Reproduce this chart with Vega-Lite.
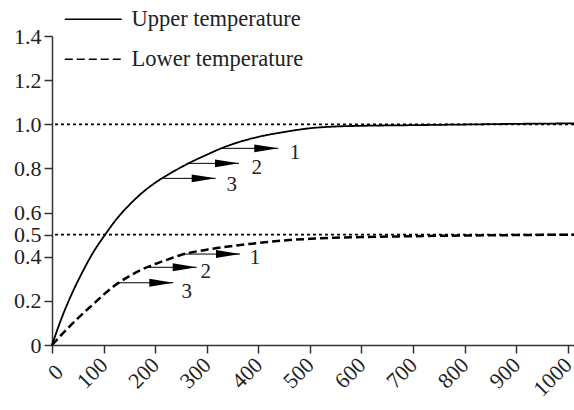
{
  "$schema": "https://vega.github.io/schema/vega-lite/v6.json",
  "width": 522,
  "height": 309,
  "autosize": {"type": "none"},
  "padding": {"left": 52, "top": 36, "right": 0, "bottom": 65},
  "background": "white",
  "config": {
    "view": {"stroke": null},
    "font": "Liberation Serif",
    "axis": {
      "grid": false,
      "domainColor": "#333",
      "domainWidth": 1.5,
      "tickColor": "#333",
      "tickWidth": 1.5,
      "tickSize": 8,
      "labelFont": "Liberation Serif",
      "labelFontSize": 22,
      "labelColor": "#222",
      "labelOverlap": false,
      "labelBound": false,
      "labelFlush": false
    }
  },
  "datasets": {
    "curves": [
      {"series": "Upper temperature", "t": 0, "v": 0},
      {"series": "Upper temperature", "t": 20, "v": 0.13},
      {"series": "Upper temperature", "t": 40, "v": 0.24},
      {"series": "Upper temperature", "t": 60, "v": 0.335},
      {"series": "Upper temperature", "t": 80, "v": 0.42},
      {"series": "Upper temperature", "t": 100, "v": 0.49},
      {"series": "Upper temperature", "t": 125, "v": 0.57},
      {"series": "Upper temperature", "t": 150, "v": 0.635},
      {"series": "Upper temperature", "t": 175, "v": 0.69},
      {"series": "Upper temperature", "t": 200, "v": 0.735},
      {"series": "Upper temperature", "t": 225, "v": 0.772},
      {"series": "Upper temperature", "t": 250, "v": 0.805},
      {"series": "Upper temperature", "t": 275, "v": 0.835},
      {"series": "Upper temperature", "t": 300, "v": 0.862},
      {"series": "Upper temperature", "t": 325, "v": 0.888},
      {"series": "Upper temperature", "t": 350, "v": 0.91},
      {"series": "Upper temperature", "t": 375, "v": 0.928},
      {"series": "Upper temperature", "t": 400, "v": 0.943},
      {"series": "Upper temperature", "t": 450, "v": 0.965},
      {"series": "Upper temperature", "t": 500, "v": 0.982},
      {"series": "Upper temperature", "t": 550, "v": 0.99},
      {"series": "Upper temperature", "t": 600, "v": 0.993},
      {"series": "Upper temperature", "t": 700, "v": 0.996},
      {"series": "Upper temperature", "t": 800, "v": 0.999},
      {"series": "Upper temperature", "t": 900, "v": 1.002},
      {"series": "Upper temperature", "t": 1012, "v": 1.004},
      {"series": "Lower temperature", "t": 0, "v": 0},
      {"series": "Lower temperature", "t": 20, "v": 0.05},
      {"series": "Lower temperature", "t": 40, "v": 0.098},
      {"series": "Lower temperature", "t": 60, "v": 0.143},
      {"series": "Lower temperature", "t": 80, "v": 0.185},
      {"series": "Lower temperature", "t": 100, "v": 0.228},
      {"series": "Lower temperature", "t": 125, "v": 0.275},
      {"series": "Lower temperature", "t": 150, "v": 0.312},
      {"series": "Lower temperature", "t": 175, "v": 0.343},
      {"series": "Lower temperature", "t": 200, "v": 0.367},
      {"series": "Lower temperature", "t": 225, "v": 0.388},
      {"series": "Lower temperature", "t": 250, "v": 0.408},
      {"series": "Lower temperature", "t": 300, "v": 0.432},
      {"series": "Lower temperature", "t": 350, "v": 0.449},
      {"series": "Lower temperature", "t": 400, "v": 0.462},
      {"series": "Lower temperature", "t": 450, "v": 0.474},
      {"series": "Lower temperature", "t": 500, "v": 0.481},
      {"series": "Lower temperature", "t": 550, "v": 0.486},
      {"series": "Lower temperature", "t": 600, "v": 0.489},
      {"series": "Lower temperature", "t": 700, "v": 0.493},
      {"series": "Lower temperature", "t": 800, "v": 0.496},
      {"series": "Lower temperature", "t": 900, "v": 0.498},
      {"series": "Lower temperature", "t": 1012, "v": 0.5}
    ],
    "refs": [{"level": 1.0}, {"level": 0.5}],
    "arrows": [
      {"curve": "upper", "n": "1", "x1": 325.7, "x2": 438.7, "y": 0.891, "lx": 471, "ly": 0.871},
      {"curve": "upper", "n": "2", "x1": 261, "x2": 362.5, "y": 0.823, "lx": 397, "ly": 0.803},
      {"curve": "upper", "n": "3", "x1": 215.8, "x2": 317.4, "y": 0.755, "lx": 348.4, "ly": 0.725},
      {"curve": "lower", "n": "1", "x1": 254.6, "x2": 364.5, "y": 0.412, "lx": 393.6, "ly": 0.394},
      {"curve": "lower", "n": "2", "x1": 183.6, "x2": 280.5, "y": 0.352, "lx": 298, "ly": 0.331},
      {"curve": "lower", "n": "3", "x1": 125.4, "x2": 235.2, "y": 0.282, "lx": 261, "ly": 0.242}
    ]
  },
  "layer": [
    {
      "data": {"name": "curves"},
      "transform": [{"filter": "datum.series === 'Upper temperature'"}],
      "mark": {"type": "line", "color": "black", "strokeWidth": 1.8, "interpolate": "monotone"},
      "encoding": {
        "x": {
          "field": "t", "type": "quantitative",
          "scale": {"domain": [0, 1012], "nice": false},
          "axis": {
            "title": null,
            "values": [0, 100, 200, 300, 400, 500, 600, 700, 800, 900, 1000],
            "tickCount": 30,
            "format": "d",
            "labelOverlap": false,
            "labelPadding": 8,
            "labelAngle": -45,
            "labelAlign": "right",
            "labelBaseline": {"condition": {"test": "datum.value === 0", "value": "top"}, "value": "middle"}
          }
        },
        "y": {
          "field": "v", "type": "quantitative",
          "scale": {"domain": [0, 1.4], "nice": false},
          "axis": {
            "title": null,
            "values": [0, 0.2, 0.4, 0.5, 0.6, 0.8, 1.0, 1.2, 1.4],
            "tickCount": 30,
            "labelExpr": "datum.value === 0 ? '0' : format(datum.value, '.1f')",
            "labelOverlap": false,
            "labelPadding": 3
          }
        },
        "strokeDash": {
          "field": "series", "type": "nominal",
          "scale": {"domain": ["Upper temperature", "Lower temperature"], "range": [[1, 0], [8, 4]]},
          "legend": {
            "title": null,
            "orient": "none",
            "legendX": 11,
            "legendY": -28,
            "padding": 0,
            "symbolType": "M-1,0H5",
            "symbolSize": 361,
            "symbolStrokeWidth": 1.3,
            "symbolStrokeColor": "black",
            "labelFont": "Liberation Serif",
            "labelFontSize": 22.5,
            "labelColor": "#222",
            "labelOffset": 46,
            "labelLimit": 0,
            "rowPadding": 17,
            "encode": {
              "symbols": {
                "update": {
                  "strokeDash": {"signal": "datum.value === 'Lower temperature' ? [0,3,2,5,6.5,4.5,6.5,4.5,6.5,4.5,6.5,4.5] : [1,0]"}
                }
              }
            }
          }
        }
      }
    },
    {
      "data": {"name": "curves"},
      "transform": [{"filter": "datum.series === 'Lower temperature'"}],
      "mark": {"type": "line", "color": "black", "strokeWidth": 2.5, "interpolate": "monotone"},
      "encoding": {
        "x": {"field": "t", "type": "quantitative", "axis": {"title": null}},
        "y": {"field": "v", "type": "quantitative", "axis": {"title": null}},
        "strokeDash": {"field": "series", "type": "nominal"}
      }
    },
    {
      "data": {"name": "refs"},
      "mark": {"type": "rule", "color": "black", "strokeWidth": 1.8, "strokeDash": [3, 3]},
      "encoding": {
        "y": {"field": "level", "type": "quantitative", "axis": {"title": null}}
      }
    },
    {
      "data": {"name": "arrows"},
      "mark": {"type": "rule", "color": "black", "strokeWidth": 1},
      "encoding": {
        "x": {"field": "x1", "type": "quantitative", "axis": {"title": null}},
        "x2": {"field": "x2"},
        "y": {"field": "y", "type": "quantitative", "axis": {"title": null}}
      }
    },
    {
      "data": {"name": "arrows"},
      "mark": {"type": "point", "shape": "M0,0L-2,-0.33L-2,0.33Z", "size": 576, "filled": true, "color": "black", "opacity": 1, "strokeWidth": 0},
      "encoding": {
        "x": {"field": "x2", "type": "quantitative", "axis": {"title": null}},
        "y": {"field": "y", "type": "quantitative", "axis": {"title": null}}
      }
    },
    {
      "data": {"name": "arrows"},
      "mark": {"type": "text", "font": "Liberation Serif", "fontSize": 21, "color": "#222", "align": "center", "baseline": "middle"},
      "encoding": {
        "x": {"field": "lx", "type": "quantitative", "axis": {"title": null}},
        "y": {"field": "ly", "type": "quantitative", "axis": {"title": null}},
        "text": {"field": "n"}
      }
    }
  ]
}
